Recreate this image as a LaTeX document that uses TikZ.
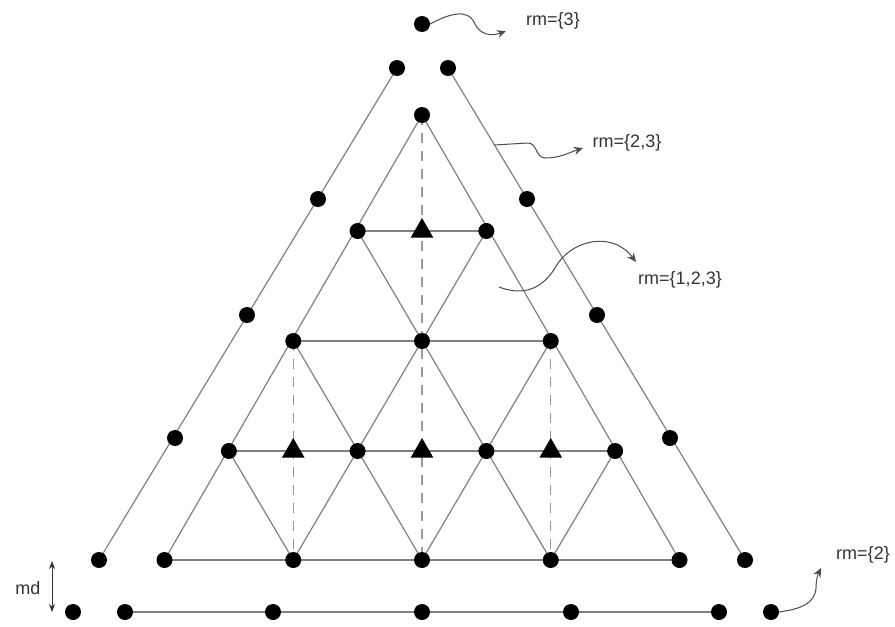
\documentclass[tikz,border=0pt]{standalone}
\usepackage{fontspec}
\setmainfont{Liberation Sans}
\usetikzlibrary{shapes.geometric,arrows.meta}
\pgfdeclarelayer{bg}
\pgfsetlayers{bg,main}
\begin{document}
\begin{tikzpicture}[x=1pt,y=-1pt,
  dot/.style={circle,fill=black,inner sep=0pt,minimum size=16pt},
  tri/.style={regular polygon,regular polygon sides=3,fill=black,inner sep=0pt,minimum size=26pt},
  gline/.style={draw=black!50,line width=1.2pt},
  dline/.style={draw=black!40,line width=1.2pt,dash pattern=on 10pt off 8pt},
  lbl/.style={font=\fontsize{18}{20}\selectfont,text=black!80,inner sep=0pt},
  callout/.style={draw=black!70,line width=1pt,-{Stealth[length=9pt,width=8pt]}}]
\useasboundingbox (0,0) rectangle (895,627);
% inner grid
\foreach \k/\y in {0/115,1/231,2/341,3/451,4/560} {
  \foreach \j in {0,...,\k} {
    \node[dot] (i-\k-\j) at ({422+(\j-\k/2)*128.75},\y) {};
  }
}
\node[tri] (t-1) at (422,231) {};
\node[tri] (t-3a) at (293.25,451) {};
\node[tri] (t-3b) at (422,451) {};
\node[tri] (t-3c) at (550.75,451) {};
% outer dots
\node[dot] (ol-0) at (397,68) {};
\node[dot] (ol-1) at (318,199) {};
\node[dot] (ol-2) at (247,315) {};
\node[dot] (ol-3) at (175,438) {};
\node[dot] (ol-4) at (99,560) {};
\node[dot] (or-0) at (448,68) {};
\node[dot] (or-1) at (527,199) {};
\node[dot] (or-2) at (597,315) {};
\node[dot] (or-3) at (670,438) {};
\node[dot] (or-4) at (745,560) {};
% bottom row
\node[dot] (b-1) at (73,612) {};
\node[dot] (b-2) at (125,612) {};
\node[dot] (b-3) at (273,612) {};
\node[dot] (b-4) at (422,612) {};
\node[dot] (b-5) at (571,612) {};
\node[dot] (b-6) at (719,612) {};
\node[dot] (b-7) at (771,612) {};
% top
\node[dot] (top) at (422,24) {};
\begin{pgfonlayer}{bg}
  \foreach \k in {1,2,3,4} {\draw[gline] (i-\k-0.center) -- (i-\k-\k.center);}
  \foreach \j in {0,1,2,3} {\draw[gline] (i-\j-\j.center) -- (i-4-\j.center);}
  \draw[gline] (i-0-0.center) -- (i-4-4.center);
  \draw[gline] (i-1-0.center) -- (i-4-3.center);
  \draw[gline] (i-2-0.center) -- (i-4-2.center);
  \draw[gline] (i-3-0.center) -- (i-4-1.center);
  \draw[dline] (i-0-0.center) -- (i-4-2.center);
  \draw[dline] (i-2-0.center) -- (i-4-1.center);
  \draw[dline] (i-2-2.center) -- (i-4-3.center);
  \draw[gline] (ol-0.center) -- (ol-4.center);
  \draw[gline] (or-0.center) -- (or-4.center);
  \draw[gline] (b-2.center) -- (b-6.center);
\end{pgfonlayer}
% labels
\node[lbl] (l3) at (553,21) {rm=\{3\}};
\node[lbl] (l23) at (627,143) {rm=\{2,3\}};
\node[lbl] (l123) at (680,280) {rm=\{1,2,3\}};
\node[lbl] (l2) at (863,555) {rm=\{2\}};
\node[lbl] (md) at (28,588) {md};
% callouts
\coordinate (c23) at (494,145);
\coordinate (c123) at (499,287);
\coordinate (mdtop) at (52,561);
\coordinate (mdbot) at (52,612);
\draw[callout] (top.east) .. controls (452,12) and (468,10) .. (474,22) .. controls (479,34) and (490,37) .. (506,31);
\draw[callout] (c23) -- (528,143) .. controls (537,143) and (536,158) .. (545,158) .. controls (560,158) and (568,153) .. (583,148);
\draw[callout] (c123) .. controls (520,295) and (540,292) .. (555,268) .. controls (570,240) and (612,230) .. (636,262);
\draw[callout] (b-7.east) .. controls (800,609) and (815,604) .. (816,588) .. controls (816,580) and (818,574) .. (821,568);
\draw[black!80,line width=0.8pt,{Stealth[length=8pt,width=6pt]}-{Stealth[length=8pt,width=6pt]}] (mdtop) -- (mdbot);
\end{tikzpicture}
\end{document}
